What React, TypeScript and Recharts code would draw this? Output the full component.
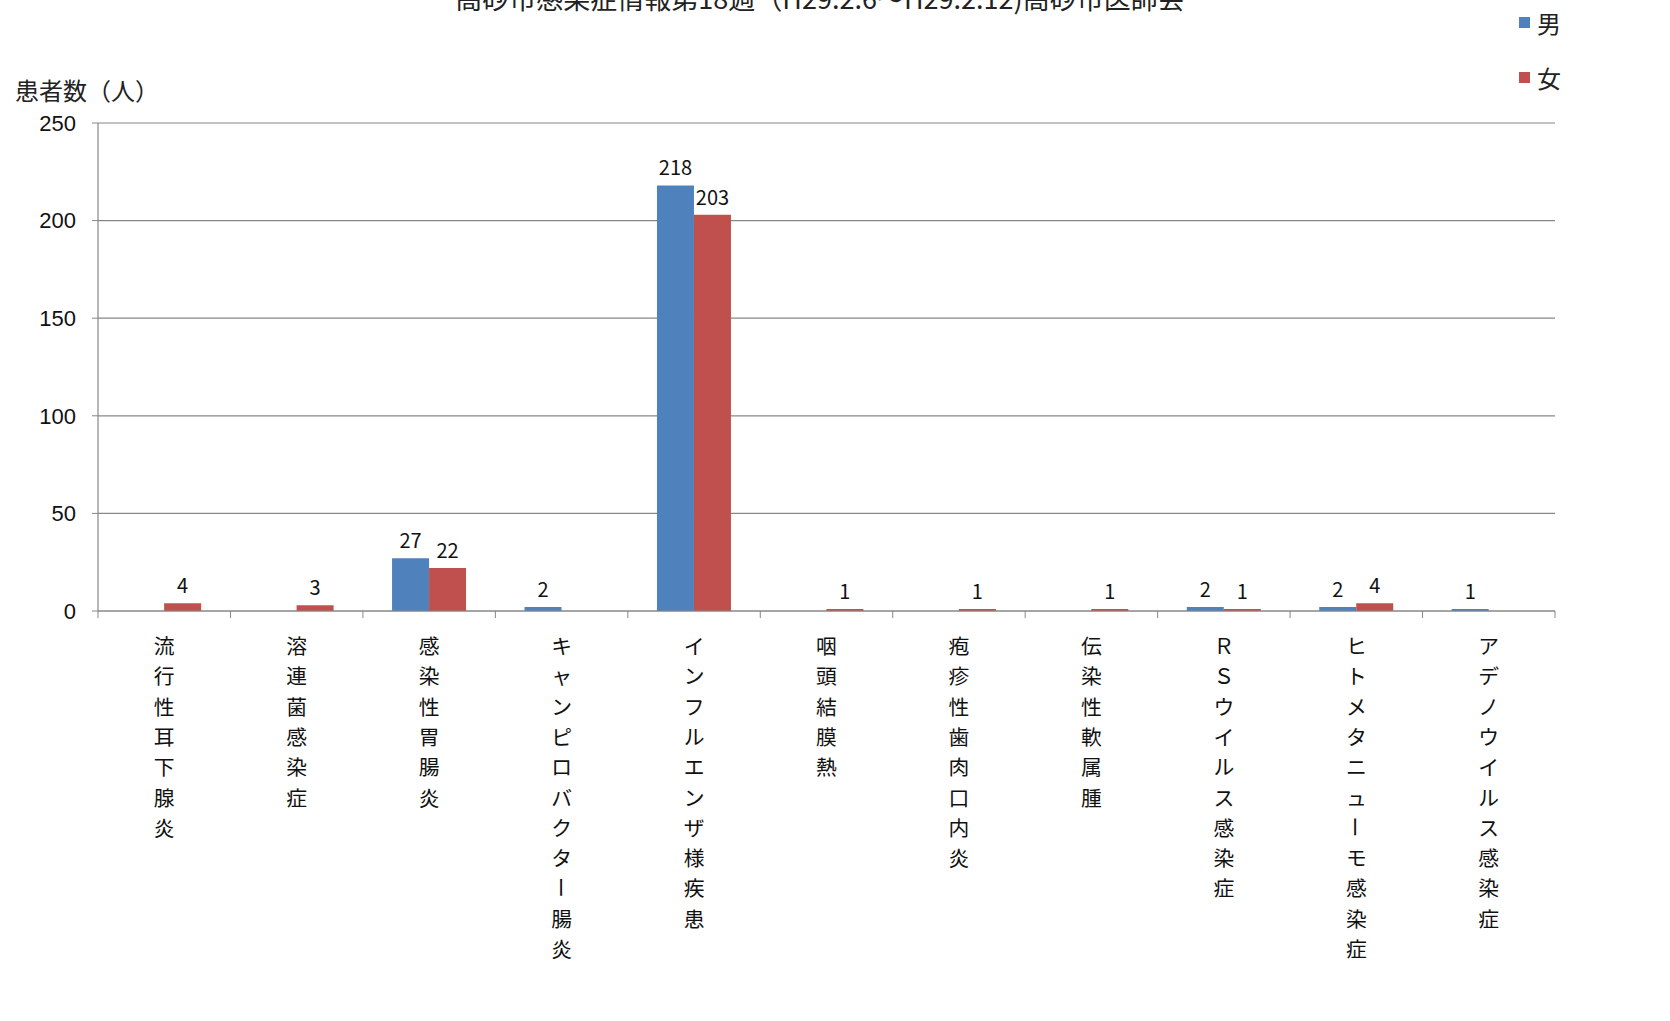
import React from "react";
import { BarChart, Bar, XAxis, YAxis, CartesianGrid, LabelList } from "recharts";

const categories = [
  "流行性耳下腺炎",
  "溶連菌感染症",
  "感染性胃腸炎",
  "キャンピロバクター腸炎",
  "インフルエンザ様疾患",
  "咽頭結膜熱",
  "疱疹性歯肉口内炎",
  "伝染性軟属腫",
  "ＲＳウイルス感染症",
  "ヒトメタニューモ感染症",
  "アデノウイルス感染症",
];
const male = [0, 0, 27, 2, 218, 0, 0, 0, 2, 2, 1];
const female = [4, 3, 22, 0, 203, 1, 1, 1, 1, 4, 0];
const yTicks = [0, 50, 100, 150, 200, 250];

const data = categories.map((name, i) => ({ name, male: male[i], female: female[i] }));

const W = 1670;
const H = 1021;
const LEFT = 98;
const RIGHT = 115;
const TOP = 123;
const BOTTOM = 410;
const STEP = (W - LEFT - RIGHT) / categories.length;

const JP = "'Noto Sans CJK JP', sans-serif";
const BLUE = "#4F81BD";
const RED = "#C0504D";
const GRID = "#878787";

// one character per line, like the vertical labels of the original
function CatTick(props: any) {
  const { x, y, payload, index } = props;
  const chars = Array.from(String(payload.value));
  return (
    <g>
      <line x1={x - STEP / 2} x2={x - STEP / 2} y1={y} y2={y + 7} stroke={GRID} />
      {index === categories.length - 1 && (
        <line x1={x + STEP / 2} x2={x + STEP / 2} y1={y} y2={y + 7} stroke={GRID} />
      )}
      {chars.map((c, i) => {
        const cy = y + 34 + i * 30.3;
        return (
          <text
            key={i}
            x={x}
            y={cy}
            textAnchor="middle"
            dominantBaseline="central"
            fontSize={20.8}
            fontFamily={JP}
            fill="#111"
            transform={c === "ー" ? `rotate(90 ${x} ${cy})` : undefined}
          >
            {c}
          </text>
        );
      })}
    </g>
  );
}

const hideZero = (v: any) => (v === 0 ? "" : v);

const legendItems = [
  { label: "男", color: BLUE },
  { label: "女", color: RED },
];

export default function App() {
  return (
    <div style={{ position: "relative", width: W, height: H, background: "#fff", overflow: "hidden" }}>
      <style>{`body{margin:0}`}</style>
      <div
        style={{
          position: "absolute",
          top: -22,
          left: 0,
          width: 1640,
          textAlign: "center",
          fontSize: 27,
          fontFamily: JP,
          color: "#222",
          whiteSpace: "nowrap",
        }}
      >
        高砂市感染症情報第18週（H29.2.6～H29.2.12)高砂市医師会
      </div>
      <div
        style={{ position: "absolute", top: 72, left: 15, fontSize: 24, fontFamily: JP, color: "#222" }}
      >
        患者数（人）
      </div>
      <div style={{ position: "absolute", top: -5, left: 1519, fontFamily: JP }}>
        {legendItems.map((it) => (
          <div key={it.label} style={{ display: "flex", alignItems: "center", height: 55 }}>
            <span
              style={{ width: 11, height: 11, background: it.color, display: "inline-block", marginRight: 7 }}
            />
            <span style={{ fontSize: 24, color: "#222" }}>{it.label}</span>
          </div>
        ))}
      </div>
      <BarChart
        width={W}
        height={H}
        data={data}
        margin={{ top: TOP, right: RIGHT, bottom: 0, left: 0 }}
        barCategoryGap="22%"
        barGap={0}
      >
        <CartesianGrid horizontal vertical={false} stroke={GRID} strokeWidth={1.2} />
        <XAxis
          dataKey="name"
          interval={0}
          height={BOTTOM}
          axisLine={{ stroke: GRID, strokeWidth: 1.2 }}
          tickLine={false}
          tickSize={0}
          tickMargin={0}
          tick={<CatTick />}
        />
        <YAxis
          width={LEFT}
          domain={[0, 250]}
          ticks={yTicks}
          interval={0}
          axisLine={{ stroke: GRID, strokeWidth: 1.2 }}
          tickLine={{ stroke: GRID }}
          tickSize={6}
          tickMargin={16}
          tick={{ fill: "#111", fontSize: 22, fontFamily: "'Liberation Sans', Arial, sans-serif" }}
        />
        <Bar dataKey="male" name="男" fill={BLUE} isAnimationActive={false}>
          <LabelList
            dataKey="male"
            position="top"
            offset={10}
            formatter={hideZero}
            style={{ fill: "#111", fontSize: 20, fontFamily: JP }}
          />
        </Bar>
        <Bar dataKey="female" name="女" fill={RED} isAnimationActive={false}>
          <LabelList
            dataKey="female"
            position="top"
            offset={10}
            formatter={hideZero}
            style={{ fill: "#111", fontSize: 20, fontFamily: JP }}
          />
        </Bar>
      </BarChart>
    </div>
  );
}
